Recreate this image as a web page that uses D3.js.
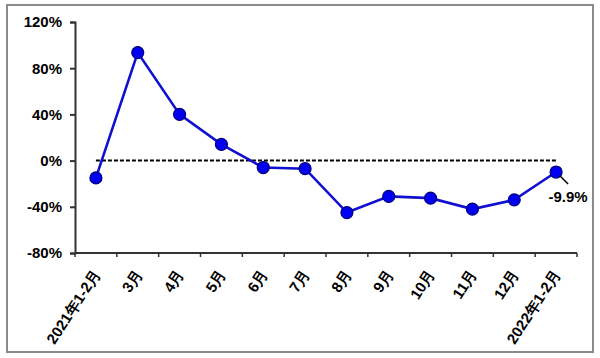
<!DOCTYPE html>
<html><head><meta charset="utf-8">
<script src="https://cdn.jsdelivr.net/npm/d3@7"></script>
<style>body{margin:0;background:#fff}svg{display:block}text{font-family:"Liberation Sans",Arial,sans-serif;font-weight:bold;fill:#000}</style>
</head><body>
<svg id="c" width="600" height="358"></svg>
<script>
const categories = ["2021年1-2月","3月","4月","5月","6月","7月","8月","9月","10月","11月","12月","2022年1-2月"];
const values = [-15, 93.5, 40, 14, -6, -7, -45, -31, -32.5, -42, -34, -9.9];
const yTicks = [-80, -40, 0, 40, 80, 120];
const lastLabel = "-9.9%";

const svg = d3.select("#c");
const L = 75, R = 577, T = 22, B = 253;
svg.append("rect").attr("x",7).attr("y",5).attr("width",586).attr("height",347)
  .attr("fill","#fff").attr("stroke","#8a8a8a").attr("stroke-width",2);

const x = d3.scaleBand().domain(categories).range([L,R]);
const y = d3.scaleLinear().domain([-80,120]).range([B,T]);

// y axis
const ya = svg.append("g").attr("transform",`translate(${L},0)`)
  .call(d3.axisLeft(y).tickValues(yTicks).tickSize(5).tickPadding(8).tickFormat(d=>d+"%"));
ya.selectAll("path,line").attr("stroke","#333").attr("stroke-width",2);
ya.selectAll("text").style("font-size","15px").style("font-family","'Liberation Sans',Arial,sans-serif").style("font-weight","bold");

// x axis
const xa = svg.append("g").attr("transform",`translate(0,${B})`);
xa.append("line").attr("x1",L).attr("x2",R).attr("y1",0).attr("y2",0).attr("stroke","#333").attr("stroke-width",2);
const bounds = categories.map(c=>x(c)).concat([R]);
xa.selectAll("line.t").data(bounds).join("line").attr("class","t")
  .attr("x1",d=>d).attr("x2",d=>d).attr("y1",0).attr("y2",4).attr("stroke","#333").attr("stroke-width",1.5);
xa.selectAll("text").data(categories).join("text")
  .attr("transform",d=>`translate(${x(d)+x.bandwidth()/2+5},21) rotate(-57)`)
  .attr("text-anchor","end").style("font-size","15px").text(d=>d);

// zero dashed line
const cx = d=>x(d)+x.bandwidth()/2;
svg.append("line").attr("x1",cx(categories[0])).attr("x2",cx(categories[categories.length-1]))
  .attr("y1",y(0)).attr("y2",y(0)).attr("stroke","#000").attr("stroke-width",2).attr("stroke-dasharray","4,2");

// series line
const data = categories.map((c,i)=>({c, v:values[i]}));
svg.append("path").datum(data).attr("fill","none").attr("stroke","#1010d0").attr("stroke-width",2.6)
  .attr("d", d3.line().x(d=>cx(d.c)).y(d=>y(d.v)));
svg.selectAll("circle").data(data).join("circle")
  .attr("cx",d=>cx(d.c)).attr("cy",d=>y(d.v)).attr("r",6)
  .attr("fill","#0000f0").attr("stroke","#00007a").attr("stroke-width",1.2);

// last label with leader
const lp = data[data.length-1];
svg.append("line").attr("x1",cx(lp.c)+4).attr("y1",y(lp.v)+4).attr("x2",cx(lp.c)+12).attr("y2",y(lp.v)+12)
  .attr("stroke","#000").attr("stroke-width",1.5);
svg.append("text").attr("x",cx(lp.c)+12).attr("y",y(lp.v)+30).attr("text-anchor","middle")
  .style("font-size","15px").text(lastLabel);
</script>
</body></html>
